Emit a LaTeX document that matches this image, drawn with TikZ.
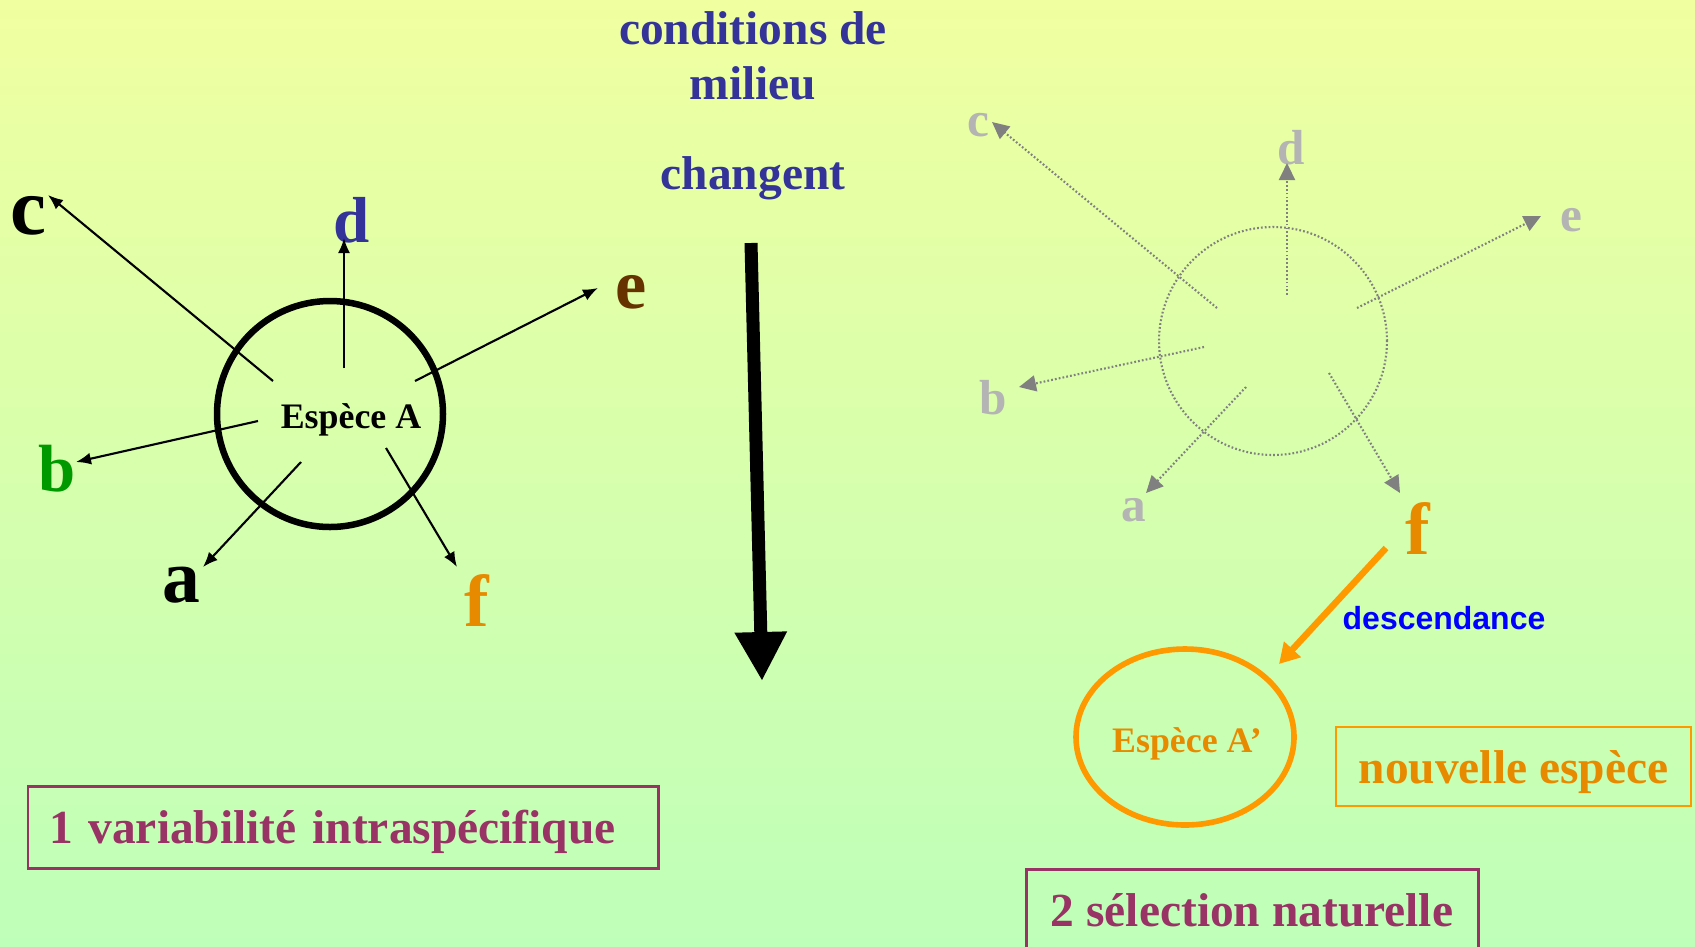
\documentclass[tikz,border=0pt]{standalone}
\usepackage{fontspec}
\setmainfont{Liberation Serif}
\setsansfont{Liberation Sans}
\usetikzlibrary{arrows.meta}

\definecolor{bleufonce}{RGB}{51,51,153}
\definecolor{vertb}{RGB}{0,153,0}
\definecolor{brun}{RGB}{102,51,0}
\definecolor{orangef}{RGB}{232,138,0}
\definecolor{orangec}{RGB}{255,153,0}
\definecolor{prune}{RGB}{153,51,102}
\definecolor{grisclair}{RGB}{180,180,180}
\definecolor{grisfonce}{RGB}{128,128,128}
\definecolor{fondhaut}{RGB}{240,255,160}
\definecolor{fondbas}{RGB}{190,255,185}

\tikzset{
  lettre/.style={font=\bfseries\fontsize{#1}{#1}\selectfont},
  lettre/.default=20,
  lettregris/.style={font=\bfseries\fontsize{14}{14}\selectfont, text=grisclair},
  fleche/.style={-{Latex[length=0.15cm,width=0.12cm]}, line width=0.6pt},
  flechegris/.style={-{Triangle[length=0.17cm,width=0.16cm]}, grisfonce, line width=0.6pt, dash pattern=on 0.5pt off 0.6pt},
  titre/.style={font=\bfseries\fontsize{13.5}{15.6}\selectfont},
  cadre/.style={draw=prune, line width=0.85pt, text=prune, titre, text depth=0pt, minimum height=0.82cm}
}

\begin{document}
\begin{tikzpicture}
			% Fond
			\useasboundingbox (0,0) rectangle (16.95,-9.46);
			\shade[top color=fondhaut, bottom color=fondbas] (0,0) rectangle (16.95,-9.46);

			% Titre central
			\node[titre, text=bleufonce, align=center] (cond) at (7.53,-0.56) {conditions de\\milieu};
			\node[titre, text=bleufonce, text depth=0pt] (chg) at (7.53,-1.73) {changent};
			\coordinate (h0) at (7.51,-2.43);
			\coordinate (h1) at (7.62,-6.81);
			\draw[line width=3.7pt, -{Triangle[length=0.49cm,width=0.49cm]}] (h0) -- (h1);

			% Espece A
			\draw[line width=1.85pt] (3.30,-4.14) circle (1.13);
			\node[font=\bfseries\fontsize{10.2}{12}\selectfont, text depth=0pt] (nomA) at (3.51,-4.16) {Espèce A};

			% Lettres
			\node[lettre=23] (lc) at (0.28,-2.16) {c};
			\node[lettre=18.5, text=bleufonce] (ld) at (3.52,-2.20) {d};
			\node[lettre, text=brun] (le) at (6.31,-2.92) {e};
			\node[lettre=19, text=vertb] (lb) at (0.57,-4.69) {b};
			\node[lettre=21.5] (la) at (1.81,-5.85) {a};
			\node[lettre=21, text=orangef] (lf) at (4.77,-6.00) {f};

			% Fleches
			\coordinate (c0) at (2.73,-3.81); \coordinate (c1) at (0.48,-1.95);
			\coordinate (d0) at (3.44,-3.68); \coordinate (d1) at (3.44,-2.38);
			\coordinate (e0) at (4.15,-3.81); \coordinate (e1) at (5.98,-2.88);
			\coordinate (b0) at (2.58,-4.21); \coordinate (b1) at (0.76,-4.62);
			\coordinate (a0) at (3.01,-4.62); \coordinate (a1) at (2.03,-5.67);
			\coordinate (f0) at (3.86,-4.48); \coordinate (f1) at (4.57,-5.67);
			\draw[fleche] (c0) -- (c1);
			\draw[fleche] (d0) -- (d1);
			\draw[fleche] (e0) -- (e1);
			\draw[fleche] (b0) -- (b1);
			\draw[fleche] (a0) -- (a1);
			\draw[fleche] (f0) -- (f1);

			\node[cadre, text width=5.88cm, align=left, inner xsep=0.21cm] (var) at (3.43,-8.27) {1 variabilité intraspécifique};

			% Selection (a droite)
			\draw[grisfonce, line width=0.6pt, dash pattern=on 0.5pt off 0.6pt] (12.73,-3.41) circle (1.14);

			\node[lettregris] (gc) at (9.78,-1.25) {c};
			\node[lettregris] (gd) at (12.91,-1.48) {d};
			\node[lettregris] (ge) at (15.71,-2.20) {e};
			\node[lettregris] (gb) at (9.93,-3.98) {b};
			\node[lettregris] (ga) at (11.34,-5.10) {a};
			\node[lettre=21, text=orangef] (gf) at (14.18,-5.28) {f};

			\coordinate (gc0) at (12.17,-3.08); \coordinate (gc1) at (9.92,-1.22);
			\coordinate (gd0) at (12.87,-2.95); \coordinate (gd1) at (12.87,-1.63);
			\coordinate (ge0) at (13.57,-3.08); \coordinate (ge1) at (15.41,-2.16);
			\coordinate (gb0) at (12.04,-3.47); \coordinate (gb1) at (10.19,-3.87);
			\coordinate (ga0) at (12.46,-3.87); \coordinate (ga1) at (11.46,-4.93);
			\coordinate (gf0) at (13.29,-3.73); \coordinate (gf1) at (14.00,-4.93);
			\draw[flechegris] (gc0) -- (gc1);
			\draw[flechegris] (gd0) -- (gd1);
			\draw[flechegris] (ge0) -- (ge1);
			\draw[flechegris] (gb0) -- (gb1);
			\draw[flechegris] (ga0) -- (ga1);
			\draw[flechegris] (gf0) -- (gf1);

			% Descendance
			\draw[orangec, line width=1.6pt] (11.85,-7.37) ellipse (1.09 and 0.88);
			\node[font=\bfseries\fontsize{10.2}{12}\selectfont, text=orangef, text depth=0pt] (nomA2) at (11.87,-7.40) {Espèce A’};
			\coordinate (o0) at (13.86,-5.48);
			\coordinate (o1) at (12.79,-6.64);
			\draw[orangec, line width=1.85pt, -{Triangle[length=0.2cm,width=0.22cm]}] (o0) -- (o1);
			\node[font=\sffamily\bfseries\fontsize{9.1}{10}\selectfont, text=blue] (desc) at (14.44,-6.18) {descendance};

			\node[draw=orangec, line width=0.6pt, titre, text=orangef, text depth=0pt, minimum width=3.55cm, minimum height=0.79cm] (nouv) at (15.135,-7.665) {nouvelle espèce};
			\node[cadre, minimum width=4.52cm, inner xsep=0pt] (sel) at (12.52,-9.10) {2 sélection naturelle};
		\end{tikzpicture}
\end{document}
